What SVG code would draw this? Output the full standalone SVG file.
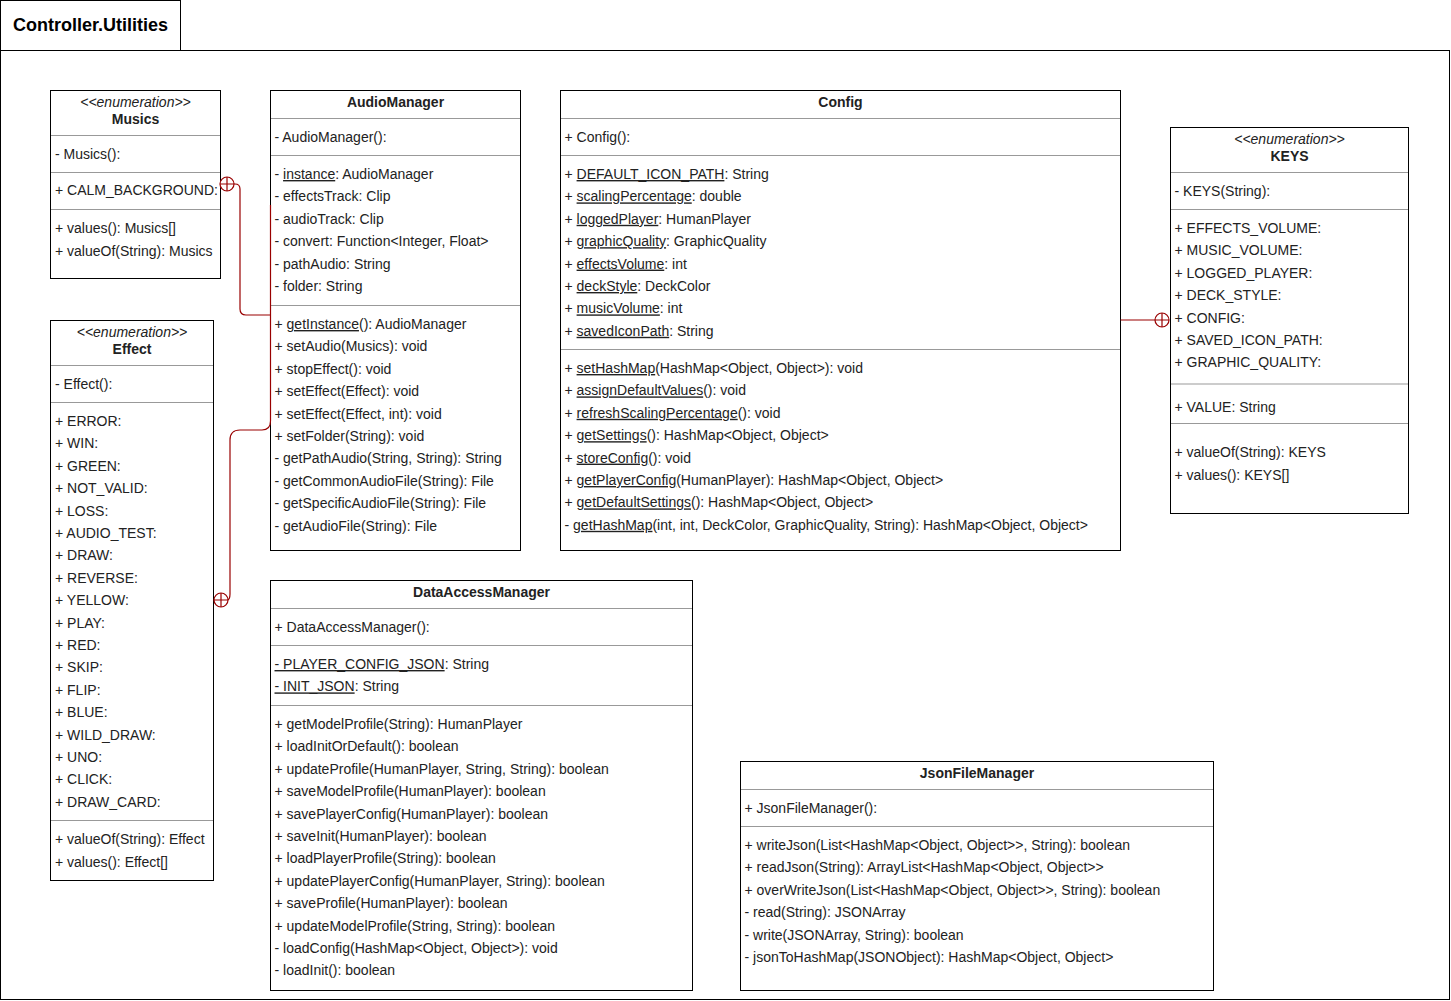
<svg xmlns="http://www.w3.org/2000/svg" width="1451" height="1001" viewBox="0 0 1451 1001">
  <style>
    .box { fill: #ffffff; stroke: #000000; stroke-width: 1; }
    .sep { stroke: #999999; stroke-width: 1; fill: none; }
    text { font-family: "Liberation Sans", Arial, sans-serif; font-size: 14px; fill: #222222; }
    .b { font-weight: bold; }
    .i { font-style: italic; }
    .c { text-anchor: middle; }
    .u { text-decoration: underline; }
    .edge { fill: none; stroke: #990000; stroke-width: 1.2; }
    .end { fill: #ffffff; stroke: #990000; stroke-width: 1.2; }
    .pkg-title { font-size: 18px; font-weight: bold; fill: #000000; }
  </style>
  <defs>
    <!-- containment end: circle with a cross -->
    <g id="oplus">
      <circle class="end" cx="0" cy="0" r="7"/>
      <path class="edge" d="M-7,0 H7 M0,-7 V7"/>
    </g>
  </defs>

  <rect width="1451" height="1001" fill="#ffffff"/>

  <!-- package frame -->
  <g id="package">
    <rect class="box" x="0.5" y="0.5" width="180" height="50"/>
    <rect class="box" x="0.5" y="50.5" width="1449" height="949"/>
    <text class="pkg-title" x="13" y="31">Controller.Utilities</text>
  </g>

  <!-- enumeration Musics -->
  <g id="musics">
    <rect class="box" x="50.5" y="90.5" width="170" height="188"/>
    <text class="i c" x="135.5" y="107">&lt;&lt;enumeration&gt;&gt;</text>
    <text class="b c" x="135.5" y="124">Musics</text>
    <line class="sep" x1="51" y1="135.5" x2="220" y2="135.5"/>
    <text x="55" y="159">- Musics():</text>
    <line class="sep" x1="51" y1="172.5" x2="220" y2="172.5"/>
    <text x="55" y="195">+ CALM_BACKGROUND:</text>
    <line class="sep" x1="51" y1="209.5" x2="220" y2="209.5"/>
    <text x="55" y="233">+ values(): Musics[]</text>
    <text x="55" y="256">+ valueOf(String): Musics</text>
  </g>

  <!-- enumeration Effect -->
  <g id="effect">
    <rect class="box" x="50.5" y="320.5" width="163" height="560"/>
    <text class="i c" x="132" y="337">&lt;&lt;enumeration&gt;&gt;</text>
    <text class="b c" x="132" y="354">Effect</text>
    <line class="sep" x1="51" y1="365.5" x2="213" y2="365.5"/>
    <text x="55" y="389">- Effect():</text>
    <line class="sep" x1="51" y1="402.5" x2="213" y2="402.5"/>
    <text x="55" y="426">+ ERROR:</text>
    <text x="55" y="448.4">+ WIN:</text>
    <text x="55" y="470.8">+ GREEN:</text>
    <text x="55" y="493.2">+ NOT_VALID:</text>
    <text x="55" y="515.6">+ LOSS:</text>
    <text x="55" y="538">+ AUDIO_TEST:</text>
    <text x="55" y="560.4">+ DRAW:</text>
    <text x="55" y="582.8">+ REVERSE:</text>
    <text x="55" y="605.2">+ YELLOW:</text>
    <text x="55" y="627.6">+ PLAY:</text>
    <text x="55" y="650">+ RED:</text>
    <text x="55" y="672.4">+ SKIP:</text>
    <text x="55" y="694.8">+ FLIP:</text>
    <text x="55" y="717.2">+ BLUE:</text>
    <text x="55" y="739.6">+ WILD_DRAW:</text>
    <text x="55" y="762">+ UNO:</text>
    <text x="55" y="784.4">+ CLICK:</text>
    <text x="55" y="806.8">+ DRAW_CARD:</text>
    <line class="sep" x1="51" y1="820.5" x2="213" y2="820.5"/>
    <text x="55" y="844">+ valueOf(String): Effect</text>
    <text x="55" y="866.5">+ values(): Effect[]</text>
  </g>

  <!-- class AudioManager -->
  <g id="audiomanager">
    <rect class="box" x="270.5" y="90.5" width="250" height="460"/>
    <text class="b c" x="395.5" y="107">AudioManager</text>
    <line class="sep" x1="271" y1="118.5" x2="520" y2="118.5"/>
    <text x="274.5" y="142">- AudioManager():</text>
    <line class="sep" x1="271" y1="155.5" x2="520" y2="155.5"/>
    <text x="274.5" y="179">- <tspan class="u">instance</tspan>: AudioManager</text>
    <text x="274.5" y="201.4">- effectsTrack: Clip</text>
    <text x="274.5" y="223.8">- audioTrack: Clip</text>
    <text x="274.5" y="246.2">- convert: Function&lt;Integer, Float&gt;</text>
    <text x="274.5" y="268.6">- pathAudio: String</text>
    <text x="274.5" y="291">- folder: String</text>
    <line class="sep" x1="271" y1="305.5" x2="520" y2="305.5"/>
    <text x="274.5" y="329">+ <tspan class="u">getInstance</tspan>(): AudioManager</text>
    <text x="274.5" y="351.4">+ setAudio(Musics): void</text>
    <text x="274.5" y="373.8">+ stopEffect(): void</text>
    <text x="274.5" y="396.2">+ setEffect(Effect): void</text>
    <text x="274.5" y="418.6">+ setEffect(Effect, int): void</text>
    <text x="274.5" y="441">+ setFolder(String): void</text>
    <text x="274.5" y="463.4">- getPathAudio(String, String): String</text>
    <text x="274.5" y="485.8">- getCommonAudioFile(String): File</text>
    <text x="274.5" y="508.2">- getSpecificAudioFile(String): File</text>
    <text x="274.5" y="530.6">- getAudioFile(String): File</text>
  </g>

  <!-- class Config -->
  <g id="config">
    <rect class="box" x="560.5" y="90.5" width="560" height="460"/>
    <text class="b c" x="840.5" y="107">Config</text>
    <line class="sep" x1="561" y1="118.5" x2="1120" y2="118.5"/>
    <text x="564.5" y="142">+ Config():</text>
    <line class="sep" x1="561" y1="155.5" x2="1120" y2="155.5"/>
    <text x="564.5" y="179">+ <tspan class="u">DEFAULT_ICON_PATH</tspan>: String</text>
    <text x="564.5" y="201.4">+ <tspan class="u">scalingPercentage</tspan>: double</text>
    <text x="564.5" y="223.8">+ <tspan class="u">loggedPlayer</tspan>: HumanPlayer</text>
    <text x="564.5" y="246.2">+ <tspan class="u">graphicQuality</tspan>: GraphicQuality</text>
    <text x="564.5" y="268.6">+ <tspan class="u">effectsVolume</tspan>: int</text>
    <text x="564.5" y="291">+ <tspan class="u">deckStyle</tspan>: DeckColor</text>
    <text x="564.5" y="313.4">+ <tspan class="u">musicVolume</tspan>: int</text>
    <text x="564.5" y="335.8">+ <tspan class="u">savedIconPath</tspan>: String</text>
    <line class="sep" x1="561" y1="349.5" x2="1120" y2="349.5"/>
    <text x="564.5" y="373">+ <tspan class="u">setHashMap</tspan>(HashMap&lt;Object, Object&gt;): void</text>
    <text x="564.5" y="395.4">+ <tspan class="u">assignDefaultValues</tspan>(): void</text>
    <text x="564.5" y="417.8">+ <tspan class="u">refreshScalingPercentage</tspan>(): void</text>
    <text x="564.5" y="440.2">+ <tspan class="u">getSettings</tspan>(): HashMap&lt;Object, Object&gt;</text>
    <text x="564.5" y="462.6">+ <tspan class="u">storeConfig</tspan>(): void</text>
    <text x="564.5" y="485">+ <tspan class="u">getPlayerConfig</tspan>(HumanPlayer): HashMap&lt;Object, Object&gt;</text>
    <text x="564.5" y="507.4">+ <tspan class="u">getDefaultSettings</tspan>(): HashMap&lt;Object, Object&gt;</text>
    <text x="564.5" y="529.8">- <tspan class="u">getHashMap</tspan>(int, int, DeckColor, GraphicQuality, String): HashMap&lt;Object, Object&gt;</text>
  </g>

  <!-- enumeration KEYS -->
  <g id="keys">
    <rect class="box" x="1170.5" y="127.5" width="238" height="386"/>
    <text class="i c" x="1289.5" y="144">&lt;&lt;enumeration&gt;&gt;</text>
    <text class="b c" x="1289.5" y="161">KEYS</text>
    <line class="sep" x1="1171" y1="172.5" x2="1408" y2="172.5"/>
    <text x="1174.5" y="196">- KEYS(String):</text>
    <line class="sep" x1="1171" y1="209.5" x2="1408" y2="209.5"/>
    <text x="1174.5" y="233">+ EFFECTS_VOLUME:</text>
    <text x="1174.5" y="255.4">+ MUSIC_VOLUME:</text>
    <text x="1174.5" y="277.8">+ LOGGED_PLAYER:</text>
    <text x="1174.5" y="300.2">+ DECK_STYLE:</text>
    <text x="1174.5" y="322.6">+ CONFIG:</text>
    <text x="1174.5" y="345">+ SAVED_ICON_PATH:</text>
    <text x="1174.5" y="367.4">+ GRAPHIC_QUALITY:</text>
    <line class="sep" x1="1171" y1="384" x2="1408" y2="384"/>
    <text x="1174.5" y="412">+ VALUE: String</text>
    <line class="sep" x1="1171" y1="423.5" x2="1408" y2="423.5"/>
    <text x="1174.5" y="457">+ valueOf(String): KEYS</text>
    <text x="1174.5" y="479.5">+ values(): KEYS[]</text>
  </g>

  <!-- class DataAccessManager -->
  <g id="dataaccessmanager">
    <rect class="box" x="270.5" y="580.5" width="422" height="410"/>
    <text class="b c" x="481.5" y="597">DataAccessManager</text>
    <line class="sep" x1="271" y1="608.5" x2="692" y2="608.5"/>
    <text x="274.5" y="632">+ DataAccessManager():</text>
    <line class="sep" x1="271" y1="645.5" x2="692" y2="645.5"/>
    <text x="274.5" y="669"><tspan class="u">- PLAYER_CONFIG_JSON</tspan>: String</text>
    <text x="274.5" y="691.4"><tspan class="u">- INIT_JSON</tspan>: String</text>
    <line class="sep" x1="271" y1="705.5" x2="692" y2="705.5"/>
    <text x="274.5" y="729">+ getModelProfile(String): HumanPlayer</text>
    <text x="274.5" y="751.4">+ loadInitOrDefault(): boolean</text>
    <text x="274.5" y="773.8">+ updateProfile(HumanPlayer, String, String): boolean</text>
    <text x="274.5" y="796.2">+ saveModelProfile(HumanPlayer): boolean</text>
    <text x="274.5" y="818.6">+ savePlayerConfig(HumanPlayer): boolean</text>
    <text x="274.5" y="841">+ saveInit(HumanPlayer): boolean</text>
    <text x="274.5" y="863.4">+ loadPlayerProfile(String): boolean</text>
    <text x="274.5" y="885.8">+ updatePlayerConfig(HumanPlayer, String): boolean</text>
    <text x="274.5" y="908.2">+ saveProfile(HumanPlayer): boolean</text>
    <text x="274.5" y="930.6">+ updateModelProfile(String, String): boolean</text>
    <text x="274.5" y="953">- loadConfig(HashMap&lt;Object, Object&gt;): void</text>
    <text x="274.5" y="975.4">- loadInit(): boolean</text>
  </g>

  <!-- class JsonFileManager -->
  <g id="jsonfilemanager">
    <rect class="box" x="740.5" y="761.5" width="473" height="229"/>
    <text class="b c" x="977" y="778">JsonFileManager</text>
    <line class="sep" x1="741" y1="789.5" x2="1213" y2="789.5"/>
    <text x="744.5" y="813">+ JsonFileManager():</text>
    <line class="sep" x1="741" y1="826.5" x2="1213" y2="826.5"/>
    <text x="744.5" y="850">+ writeJson(List&lt;HashMap&lt;Object, Object&gt;&gt;, String): boolean</text>
    <text x="744.5" y="872.4">+ readJson(String): ArrayList&lt;HashMap&lt;Object, Object&gt;&gt;</text>
    <text x="744.5" y="894.8">+ overWriteJson(List&lt;HashMap&lt;Object, Object&gt;&gt;, String): boolean</text>
    <text x="744.5" y="917.2">- read(String): JSONArray</text>
    <text x="744.5" y="939.6">- write(JSONArray, String): boolean</text>
    <text x="744.5" y="962">- jsonToHashMap(JSONObject): HashMap&lt;Object, Object&gt;</text>
  </g>

  <!-- nesting connectors -->
  <g id="connectors">
    <!-- Musics inside AudioManager -->
    <path class="edge" d="M234,184 L235,184 Q240,184 240,189 L240,309 Q240,315 246,315 L270.5,315"/>
    <use href="#oplus" x="227" y="184"/>
    <!-- Effect inside AudioManager -->
    <path class="edge" d="M227,600 Q230,600 230,594 L230,440 Q230,430 240,430 L262,430 Q270.5,430 270.5,421 L270.5,205"/>
    <use href="#oplus" x="221" y="600"/>
    <!-- KEYS inside Config -->
    <path class="edge" d="M1120.5,320 L1155,320"/>
    <use href="#oplus" x="1162" y="320"/>
  </g>
</svg>
